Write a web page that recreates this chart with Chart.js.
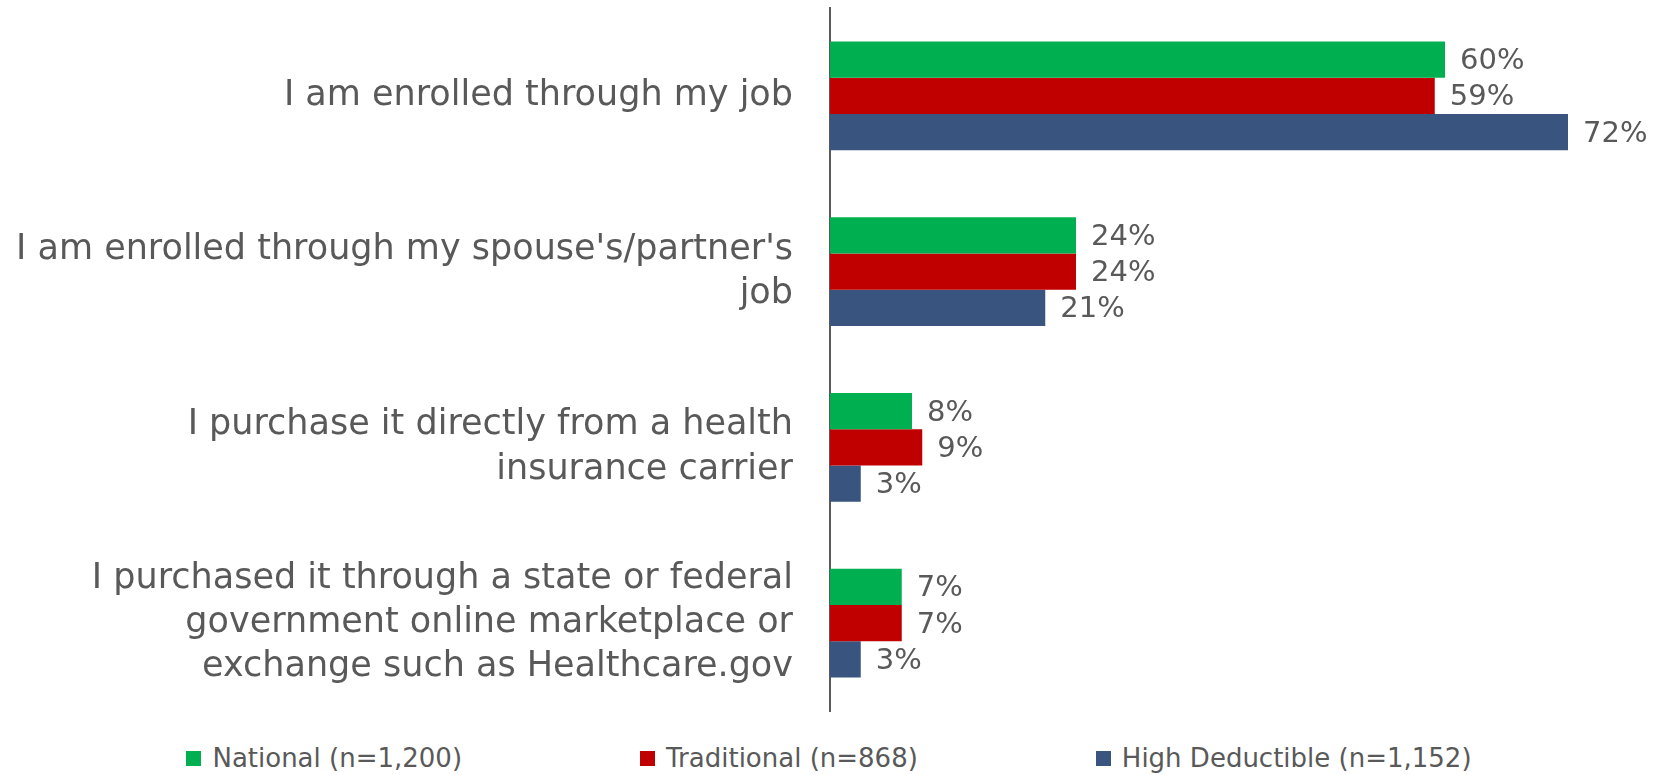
<!DOCTYPE html>
<html>
<head>
<meta charset="utf-8">
<style>
  body { margin: 0; background: #fff; font-family: "DejaVu Sans", sans-serif; }
  #wrap { position: relative; width: 1658px; height: 730px; }
  #legend {
    position: absolute; left: 0; top: 744px; width: 1658px;
    display: flex; justify-content: center; gap: 178px;
    color: #595959; font-size: 26px; line-height: 28px;
  }
  #legend span.item { display: flex; align-items: center; gap: 11px; white-space: nowrap; }
  #legend span.box { width: 15px; height: 15px; display: inline-block; }
</style>
</head>
<body>
<div id="wrap">
  <canvas id="myChart"></canvas>
</div>
<div id="legend"></div>
<script src="https://cdn.jsdelivr.net/npm/chart.js"></script>
<script>
  const categories = [
    ["I am enrolled through my job"],
    ["I am enrolled through my spouse's/partner's", "job"],
    ["I purchase it directly from a health", "insurance carrier"],
    ["I purchased it through a state or federal", "government online marketplace or", "exchange such as Healthcare.gov"],
  ];
  const seriesNames = ["National (n=1,200)", "Traditional (n=868)", "High Deductible (n=1,152)"];
  const national = [60, 24, 8, 7];
  const traditional = [59, 24, 9, 7];
  const highDeductible = [72, 21, 3, 3];
  const colors = ["#00B050", "#C00000", "#39547E"];
  const textColor = "#595959";

  const valueLabels = {
    id: "valueLabels",
    afterDatasetsDraw(chart) {
      const ctx = chart.ctx;
      ctx.save();
      ctx.font = '29px "DejaVu Sans"';
      ctx.fillStyle = textColor;
      ctx.textAlign = "left";
      ctx.textBaseline = "middle";
      chart.data.datasets.forEach((ds, i) => {
        chart.getDatasetMeta(i).data.forEach((bar, j) => {
          ctx.fillText(ds.data[j] + "%", bar.x + 15, bar.y + 2);
        });
      });
      ctx.restore();
    },
  };

  const seriesData = [national, traditional, highDeductible];

  new Chart(document.getElementById("myChart"), {
    type: "bar",
    data: {
      labels: categories,
      datasets: seriesData.map((d, i) => ({
        label: seriesNames[i],
        data: d,
        backgroundColor: colors[i],
        borderWidth: 0,
        categoryPercentage: 0.62,
        barPercentage: 1.0,
      })),
    },
    options: {
      indexAxis: "y",
      responsive: true,
      maintainAspectRatio: false,
      animation: false,
      layout: { padding: { top: 8, bottom: 19, right: 8, left: 0 } },
      plugins: {
        legend: { display: false },
        tooltip: { enabled: false },
      },
      scales: {
        x: { display: false, min: 0, max: 80 },
        y: {
          afterFit(scale) {
            scale.width = 830;
            scale.paddingTop = 0;
            scale.paddingBottom = 0;
          },
          grid: { display: false, drawTicks: false },
          border: { display: true, color: "#595959", width: 2 },
          ticks: {
            color: textColor,
            padding: 37,
            autoSkip: false,
            font: { family: "DejaVu Sans", size: 35, lineHeight: 1.26 },
          },
        },
      },
    },
    plugins: [valueLabels],
  });

  const legend = document.getElementById("legend");
  seriesNames.forEach((name, i) => {
    const item = document.createElement("span");
    item.className = "item";
    const box = document.createElement("span");
    box.className = "box";
    box.style.background = colors[i];
    item.appendChild(box);
    item.appendChild(document.createTextNode(name));
    legend.appendChild(item);
  });
</script>
</body>
</html>
